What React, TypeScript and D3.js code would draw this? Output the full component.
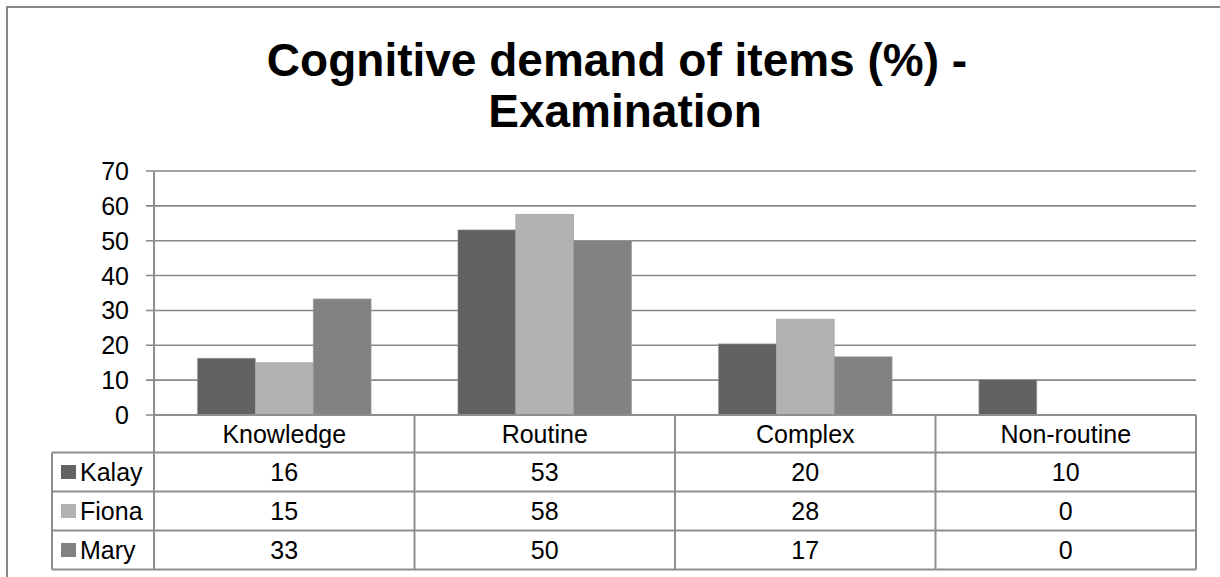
import React from "react";
import * as d3 from "d3";

const categories = ["Knowledge", "Routine", "Complex", "Non-routine"];
const seriesNames = ["Kalay", "Fiona", "Mary"];
const kalay = [16.3, 53.1, 20.4, 10.2];
const fiona = [15.0, 57.6, 27.5, 0];
const mary = [33.3, 50.0, 16.7, 0];
const seriesValues = [kalay, fiona, mary];
const seriesColors = ["#626262", "#b2b2b2", "#828282"];
const yTicks = [0, 10, 20, 30, 40, 50, 60, 70];
const titleLines = ["Cognitive demand of items (%) -", "Examination"];

const W = 1220;
const H = 577;
const FONT = "'Liberation Sans', Arial, Helvetica, sans-serif";

export default function App() {
  const plotLeft = 154;
  const plotRight = 1196;
  const plotTop = 171;
  const plotBottom = 415;
  const legendLeft = 52;

  const y = d3.scaleLinear().domain([0, 70]).range([plotBottom, plotTop]);
  const x = d3
    .scaleBand<string>()
    .domain(categories)
    .range([plotLeft, plotRight])
    .paddingInner(1 / 3)
    .paddingOuter(1 / 6);
  const xs = d3.scaleBand<string>().domain(seriesNames).range([0, x.bandwidth()]);
  const cat = d3.scaleBand<string>().domain(categories).range([plotLeft, plotRight]);

  const headerBottom = 452.5;
  const rowH = 39;
  const rowTops = seriesNames.map((_, i) => headerBottom + i * rowH);
  const tableBottom = headerBottom + seriesNames.length * rowH;

  const gridColor = "#878787";
  const tableColor = "#8e8e8e";
  const fs = 25;

  return (
    <svg
      width={W}
      height={H}
      style={{ position: "absolute", left: 0, top: 0, display: "block", background: "#fff" }}
      fontFamily={FONT}
    >
      <rect x={0} y={0} width={W} height={H} fill="#fff" />
      <rect x={7} y={7} width={W + 20} height={H + 20} fill="none" stroke={gridColor} strokeWidth={2} />

      {titleLines.map((t, i) => (
        <text
          key={t}
          x={i === 0 ? 617 : 625}
          y={76 + i * 51}
          textAnchor="middle"
          fontSize={46}
          fontWeight="bold"
          fill="#000"
        >
          {t}
        </text>
      ))}

      {yTicks.map((t) => (
        <g key={t}>
          <line
            x1={plotLeft - 8}
            x2={plotRight}
            y1={y(t)}
            y2={y(t)}
            stroke={gridColor}
            strokeWidth={1.6}
          />
          <text x={129} y={y(t)} dy="0.36em" textAnchor="end" fontSize={fs} fill="#000">
            {t}
          </text>
        </g>
      ))}

      {categories.map((c, ci) => (
        <g key={c}>
          {seriesNames.map((s, si) => {
            const v = seriesValues[si][ci];
            if (v <= 0) return null;
            return (
              <rect
                key={s}
                x={(x(c) as number) + (xs(s) as number)}
                y={y(v)}
                width={xs.bandwidth()}
                height={y(0) - y(v)}
                fill={seriesColors[si]}
                stroke="#a0a0a0"
                strokeWidth={0.6}
              />
            );
          })}
        </g>
      ))}

      <line x1={plotLeft} x2={plotLeft} y1={plotTop} y2={tableBottom} stroke={tableColor} strokeWidth={2} />

      <line x1={plotLeft} x2={plotRight} y1={plotBottom} y2={plotBottom} stroke={tableColor} strokeWidth={2} />
      {[headerBottom, ...rowTops.slice(1), tableBottom].map((yy, i) => (
        <line key={i} x1={legendLeft} x2={plotRight} y1={yy} y2={yy} stroke={tableColor} strokeWidth={2} />
      ))}
      <line x1={legendLeft} x2={legendLeft} y1={headerBottom} y2={tableBottom} stroke={tableColor} strokeWidth={2} />
      {categories.map((c) => (
        <line
          key={c}
          x1={(cat(c) as number) + cat.bandwidth()}
          x2={(cat(c) as number) + cat.bandwidth()}
          y1={plotBottom}
          y2={tableBottom}
          stroke={tableColor}
          strokeWidth={2}
        />
      ))}
      {categories.map((c) => (
        <text
          key={c}
          x={(cat(c) as number) + cat.bandwidth() / 2}
          y={(plotBottom + headerBottom) / 2}
          dy="0.36em"
          textAnchor="middle"
          fontSize={fs}
          fill="#000"
        >
          {c}
        </text>
      ))}
      {seriesNames.map((s, si) => (
        <g key={s}>
          <rect x={61} y={rowTops[si] + rowH / 2 - 7} width={15} height={14} fill={seriesColors[si]} />
          <text x={80} y={rowTops[si] + rowH / 2} dy="0.36em" fontSize={fs} fill="#000">
            {s}
          </text>
          {categories.map((c, ci) => (
            <text
              key={c}
              x={(cat(c) as number) + cat.bandwidth() / 2}
              y={rowTops[si] + rowH / 2}
              dy="0.36em"
              textAnchor="middle"
              fontSize={fs}
              fill="#000"
            >
              {Math.round(seriesValues[si][ci])}
            </text>
          ))}
        </g>
      ))}
    </svg>
  );
}
